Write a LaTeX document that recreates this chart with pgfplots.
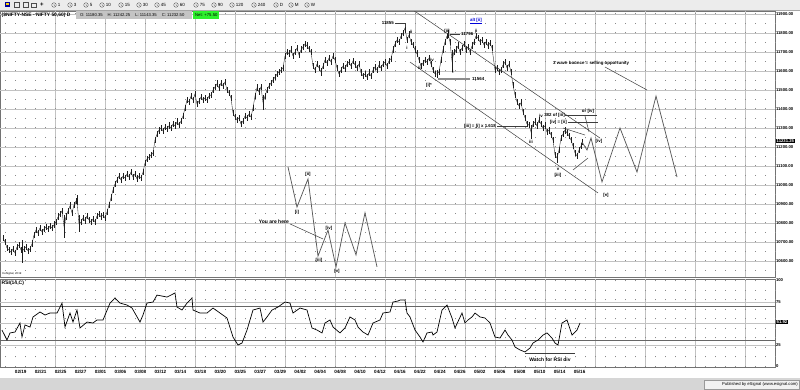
\documentclass[border=0pt]{standalone}
\usepackage{fontspec}
\setmainfont{Liberation Sans}
\usepackage{pgfplots}
\pgfplotsset{compat=1.18}
\usepackage{pgfplotstable}
\newcommand{\ft}[1]{\fontsize{#1}{#1}\selectfont}
\definecolor{barcol}{HTML}{1E1E1E}
\definecolor{anncol}{HTML}{3C3C3C}
\definecolor{tbgray}{HTML}{ECECEC}
\definecolor{ftgray}{HTML}{D6D6D6}
\definecolor{netgreen}{HTML}{2EF02E}
\definecolor{ohlcgray}{HTML}{C4C4C4}
\definecolor{gridcol}{HTML}{8A8A8A}
\definecolor{gridline}{HTML}{C2C2C2}

\pgfplotstableread{
x c r
3 10721 18
5 10700 18
7 10668 18
9 10658 18
11 10647 18
13 10663 18
15 10642 18
17 10674 18
19 10684 18
21 10658 18
22 10650 60
24 10663 18
26 10674 18
28 10653 18
30 10663 18
32 10690 18
34 10737 18
36 10763 18
38 10747 18
40 10774 18
42 10753 18
44 10768 18
46 10779 18
48 10768 18
50 10784 18
52 10774 18
54 10790 18
56 10805 18
58 10832 18
60 10847 18
62 10863 18
64 10782 60
66 10832 18
68 10863 18
70 10890 18
72 10853 18
74 10895 18
76 10916 18
77 10921 25
79 10795 45
81 10805 18
83 10826 18
85 10811 18
87 10837 18
89 10816 18
91 10805 18
93 10821 18
95 10805 18
97 10837 18
99 10847 18
101 10832 18
103 10842 18
105 10826 18
107 10858 18
109 10895 18
111 10932 18
113 10974 18
115 11005 18
117 11026 18
119 11047 18
121 11026 18
123 11047 18
125 11037 18
127 11058 18
129 11042 18
131 11068 18
133 11042 18
135 11058 18
137 11032 18
139 11047 18
141 11037 18
143 11068 18
145 11116 18
147 11137 18
149 11147 18
151 11158 18
153 11168 18
155 11237 18
157 11268 18
159 11289 18
161 11300 18
163 11284 18
165 11305 18
167 11295 18
169 11311 18
171 11300 18
173 11321 18
175 11311 18
177 11332 18
179 11316 18
181 11337 18
183 11363 18
185 11405 18
187 11447 18
189 11437 18
191 11468 18
193 11447 18
195 11479 18
197 11426 18
199 11442 18
201 11463 18
203 11447 18
205 11458 18
207 11447 18
209 11468 18
211 11474 18
213 11500 18
215 11516 18
217 11532 18
219 11511 18
221 11537 18
223 11521 18
225 11542 18
227 11500 18
229 11484 18
231 11458 18
233 11379 18
235 11358 18
237 11342 18
239 11353 18
241 11321 18
243 11337 18
245 11363 18
247 11353 18
249 11374 18
251 11358 18
253 11405 18
255 11468 18
257 11511 18
259 11490 18
261 11516 18
263 11434 40
265 11468 18
267 11500 18
269 11521 18
271 11537 18
273 11553 18
275 11568 18
277 11584 18
279 11595 18
281 11605 18
283 11616 18
285 11679 18
287 11700 18
289 11690 18
291 11711 18
293 11679 18
295 11700 18
297 11721 18
299 11684 18
301 11711 18
303 11726 18
305 11742 18
307 11732 18
309 11716 18
311 11700 18
313 11626 18
315 11605 18
317 11637 18
319 11616 18
321 11595 22
323 11626 18
325 11658 18
327 11642 18
329 11668 18
331 11647 18
333 11679 18
335 11658 18
337 11616 18
339 11584 18
341 11605 18
343 11626 18
345 11611 18
347 11637 18
349 11647 18
351 11626 18
353 11653 18
355 11632 18
357 11616 18
359 11637 18
361 11590 18
363 11574 18
365 11584 18
367 11568 18
369 11590 18
371 11574 18
373 11605 18
375 11621 18
377 11605 18
379 11632 18
381 11616 18
383 11637 18
385 11647 18
387 11626 18
389 11653 18
391 11663 18
393 11711 18
395 11742 18
397 11763 18
399 11753 18
401 11784 18
403 11800 18
405 11826 27
407 11763 18
409 11790 18
411 11753 18
413 11737 18
415 11711 18
417 11690 18
419 11658 18
421 11626 18
423 11642 18
425 11658 18
427 11647 18
429 11668 18
431 11637 18
433 11605 18
435 11584 18
437 11584 20
439 11595 18
441 11658 18
443 11711 18
445 11753 18
447 11784 18
448 11795 20
450 11753 18
452 11653 58
454 11700 18
456 11711 18
458 11732 18
460 11700 18
462 11721 18
464 11742 18
466 11711 18
468 11726 18
470 11700 18
472 11732 18
474 11753 18
476 11784 18
478 11774 18
480 11753 18
482 11763 18
484 11737 18
486 11753 18
488 11732 18
490 11747 18
492 11721 18
495 11605 18
497 11616 18
499 11595 18
501 11605 18
503 11632 18
505 11647 18
507 11616 18
509 11637 18
511 11595 18
513 11526 18
515 11474 18
517 11437 18
519 11416 18
521 11432 18
523 11384 18
525 11353 18
527 11321 18
529 11316 18
531 11279 37
533 11321 18
535 11332 18
537 11311 18
539 11342 18
541 11321 18
543 11300 18
545 11311 18
547 11279 18
549 11289 18
551 11263 18
553 11237 18
555 11158 18
557 11142 26
559 11184 18
561 11247 18
563 11268 18
565 11289 18
567 11274 18
569 11258 18
571 11237 18
573 11205 18
575 11168 18
577 11153 18
579 11184 18
581 11205 18
582 11226 18
}\pricedata

\pgfplotstableread{
x v
2 42.4
7 30.8
10 39.0
15 40.1
20 50.6
22 34.3
25 48.3
30 45.9
33 57.6
40 63.4
45 59.9
50 62.2
57 62.2
62 73.8
65 45.9
70 62.2
73 51.7
77 65.7
80 44.8
87 51.7
93 50.6
97 54.1
103 54.1
110 73.8
115 79.7
120 73.8
127 71.5
132 68.0
140 51.7
143 59.9
147 73.8
153 75.0
157 83.1
167 80.8
175 85.5
177 69.2
182 65.7
187 73.8
192 79.7
193 65.7
200 62.2
207 62.2
213 68.0
220 62.2
227 56.4
233 34.3
238 25.0
242 27.3
247 42.4
253 65.7
260 68.0
263 51.7
267 57.6
272 65.7
278 69.2
285 75.0
290 73.8
293 62.2
300 68.0
307 65.7
312 44.8
317 42.4
322 39.0
325 50.6
330 54.1
333 45.9
340 39.0
345 44.8
350 57.6
355 54.1
358 45.9
363 40.1
368 36.6
373 50.6
380 54.1
383 62.2
390 63.4
393 75.0
398 76.2
400 77.3
405 77.3
407 62.2
410 57.6
415 42.4
420 34.3
423 28.5
427 39.0
432 40.1
433 36.6
437 40.1
442 65.7
447 71.5
452 56.4
455 44.8
462 62.2
465 50.6
468 54.1
472 57.6
475 62.2
480 57.6
485 56.4
490 50.6
495 34.3
500 33.1
505 42.4
508 36.6
512 30.8
515 22.7
520 19.2
525 16.9
530 21.5
533 27.3
538 30.8
543 36.6
547 39.0
552 33.1
555 27.3
558 25.0
562 50.6
567 54.1
572 36.6
577 42.4
580 50.6
}\rsidata

\tikzset{
  majg/.style={gridline, line width=0.7pt},
  ming/.style={gridcol, line width=1pt, dash pattern=on 1pt off 8.5pt, dash phase=3.5pt},
}
\pgfplotsset{
  chartbase/.style={
    scale only axis, width=775pt, xmin=0, xmax=775,
    axis line style={black!55, line width=0.6pt},
    xtick=\empty,
    major tick length=0pt, minor tick length=0pt,
    scaled y ticks=false,
    yticklabel pos=right,
    yticklabel style={anchor=west, font=\bfseries\ft{4.2}, xshift=-2.5pt,
      /pgf/number format/fixed, /pgf/number format/fixed zerofill,
      /pgf/number format/precision=2, /pgf/number format/1000 sep={},
      /pgf/number format/assume math mode=true},
    clip mode=individual,
  },
  ann/.style={anncol, line width=0.5pt, mark=none},
  proj/.style={black!65, line width=0.75pt, mark=none},
}

\begin{document}
\begin{tikzpicture}[x=1pt,y=1pt]
\useasboundingbox (0,0) rectangle (800,390);
\fill[white] (0,0) rectangle (800,390);

% ---------------- price panel ----------------
\begin{axis}[chartbase, at={(0pt,113pt)}, anchor=south west, height=266pt,
  ymin=10515.8, ymax=11915.8, ytick={10600,10700,...,11900}]
% grid (decoration)
\pgfplotsinvokeforeach{10600,10700,...,11900}{\draw[majg] (axis cs:0,#1) -- (axis cs:775,#1);}
\pgfplotsinvokeforeach{55,105,145,195,235,285,335,385,415,465,495,545,595,645,695,745}{\draw[majg] (axis cs:#1,10515.8) -- (axis cs:#1,11915.8);}
\pgfplotsinvokeforeach{5,15,...,775}{\draw[ming] (axis cs:#1,10515.8) -- (axis cs:#1,11915.8);}
\addplot[barcol, line width=0.35pt, mark=none,
  error bars/.cd, y dir=both, y explicit, error mark=none,
  error bar style={barcol, line width=0.55pt}]
  table[x=x, y=c, y error=r]{\pricedata};
% price labels lines
\addplot[ann] coordinates {(395,11853) (405,11853) (405,11830)};
\addplot[ann] coordinates {(450,11795) (460,11795)};
\addplot[black!45, line width=1.5pt, mark=none] coordinates {(438,11558) (470,11558)};
% channel
\addplot[ann] coordinates {(413,11921) (600,11247)};
\addplot[ann] coordinates {(410,11647) (598,10958)};
\addplot[ann] coordinates {(605,11621) (647,11500)};
% fib lines
\addplot[ann] coordinates {(497,11311) (527,11311)};
\addplot[ann] coordinates {(565,11368) (597,11368)};
\addplot[ann] coordinates {(568,11332) (598,11332)};
\addplot[ann] coordinates {(585,11363) (589,11279)};
\addplot[ann] coordinates {(563,11300) (585,11263)};
\addplot[ann] coordinates {(573,11079) (588,11142)};
% projection
\addplot[proj] coordinates {(582,11226) (587,11184) (591,11247) (602,11016) (620,11300) (637,11068) (656,11468) (677,11042)};
% you are here schematic
\addplot[proj] coordinates {(288,11095) (297,10884) (308,11032) (318,10626) (328,10763) (336,10569) (345,10800) (356,10632) (365,10853) (377,10569)};
\addplot[ann] coordinates {(290,10795) (323,10716)};
\node[fill=black, text=white, anchor=west, inner sep=0.7pt, font=\bfseries\ft{4.2}, xshift=0.8pt] at (axis cs:775,11231.25) {11231.25};
\end{axis}

% ---------------- RSI panel ----------------
\begin{axis}[chartbase, at={(0pt,23pt)}, anchor=south west, height=88pt,
  ymin=-0.6, ymax=101.8, ytick={0,25,50,75,100}, yticklabels={0,25,,75,100},
  xtick={20.7,40.66,...,580},
  xticklabels={02/19,02/21,02/25,02/27,03/01,03/06,03/08,03/12,03/14,03/18,03/20,03/25,03/27,03/29,04/02,04/04,04/08,04/10,04/12,04/16,04/22,04/24,04/26,05/02,05/06,05/08,05/10,05/14,05/16},
  xticklabel style={font=\bfseries\ft{4.6}, anchor=north, yshift=0.5pt}]
\pgfplotsinvokeforeach{25,50,75}{\draw[majg] (axis cs:0,#1) -- (axis cs:775,#1);}
\pgfplotsinvokeforeach{55,105,145,195,235,285,335,385,415,465,495,545,595,645,695,745}{\draw[majg] (axis cs:#1,-0.6) -- (axis cs:#1,101.8);}
\pgfplotsinvokeforeach{5,15,...,775}{\draw[ming, dash phase=0pt] (axis cs:#1,-0.6) -- (axis cs:#1,101.8);}
\addplot[black!60, line width=0.6pt, mark=none] coordinates {(0,70) (775,70)};
\addplot[black!60, line width=0.6pt, mark=none] coordinates {(0,30) (775,30)};
\addplot[black, line width=0.7pt, mark=none] table[x=x, y=v]{\rsidata};
\addplot[ann] coordinates {(525,15.7) (575,15.7)};
\node[fill=black, text=white, anchor=west, inner sep=0.7pt, font=\bfseries\ft{4.2}, xshift=0.8pt] at (axis cs:775,51.92) {51.92};
\end{axis}

% ---------------- chrome and annotations (image coordinates) ----------------
\begin{scope}[shift={(0,390)}, yscale=-1]
% toolbar
\fill[tbgray] (0,0) rectangle (800,10.3);
\draw[black!35, line width=0.4pt] (0,10.3) -- (800,10.3);
\fill[blue!60!black] (5,2.5) rectangle (10,7.5);
\fill[yellow!70!orange] (6,3.5) rectangle (9,5);
\draw[black!70, line width=0.4pt] (14,2.5) rectangle (19,7.5);
\draw[black!70, line width=0.4pt] (23,2.5) rectangle (28,7.5);
\draw[black!70, line width=0.4pt] (31,3) rectangle (36,7.5);
\node[font=\bfseries\ft{6}] at (42,5) {+};
\foreach \cx/\lab in {54/1,70/3,86/5,102/10,121/15,139/30,157/45,176/60,196/75,214/90,232/120,254/240,276/D,291/M,307/W}{
  \draw[black!70, line width=0.35pt] (\cx,5) circle (2.3);
  \draw[black!70, line width=0.35pt] (\cx,5) -- (\cx,3.6) (\cx,5) -- (\cx+1,5.6);
  \node[anchor=west, inner sep=0pt, font=\ft{4.5}] at (\cx+3.6,5.2) {\lab};
}
% header
\node[anchor=west, inner sep=0pt, font=\bfseries\ft{4.9}] at (1.5,15.3) {(\$NIFTY-NSE - NIFTY 50,60) D};
\fill[ohlcgray] (76,11.2) rectangle (192,19.3);
\node[anchor=west, inner sep=0pt, font=\ft{4.2}] at (80,15.3) {O: 11180.35\hspace{5pt}H: 11242.25\hspace{5pt}L: 11143.35\hspace{5pt}C: 11232.50};
\fill[netgreen] (192.5,11.2) rectangle (218.5,19.3);
\node[anchor=west, inner sep=0pt, font=\ft{4.2}] at (195,15.3) {Net: +75.50};
% price annotations
\begin{scope}[every node/.style={inner sep=0pt, font=\bfseries\ft{4.4}}]
\node[anchor=east] at (394,23) {11855};
\node at (411,32) {ii};
\node at (407,48) {i};
\node at (420,68) {iii};
\node at (432,60) {iv};
\node at (429,85) {[i]*};
\node at (447,31) {[ii]};
\node[anchor=west] at (461,34) {11796};
\node at (453,72) {i};
\node at (476,31) {ii};
\node[anchor=west] at (472,79) {11564};
\node[text=blue!85!black] at (476,21) {\underline{alt [ii]}};
\node[anchor=west] at (553,63) {3 wave bounce = selling opportunity};
\node[anchor=east] at (496,126) {[iii] = [i] x 1.618};
\node at (531,142) {iii};
\node at (541,116) {iv};
\node at (558,169) {v};
\node at (558,175) {[iii]};
\node[anchor=east] at (565,115) {382 of [iii]};
\node[anchor=east] at (567,122) {[iv] = [ii]};
\node at (588,111) {or [iv]};
\node at (599,141) {[iv]};
\node at (606,195) {[v]};
\node at (308,174) {[ii]};
\node at (297,212) {[i]};
\node at (319,260) {[iii]};
\node at (329,228) {[iv]};
\node at (337,271) {[v]};
\node[anchor=east, font=\bfseries\ft{5}] at (289,222) {You are here};
\node[anchor=west, font=\ft{2.8}] at (2,273.5) {\textcopyright eSignal, 2019};
\node[anchor=west, font=\bfseries\ft{5}] at (1.5,283.5) {RSI(14,C)};
\node[font=\bfseries\ft{5}] at (550,360) {Watch for RSI div};
\end{scope}
% footer
\fill[ftgray] (0,378.5) rectangle (800,390);
\draw[black!40, line width=0.4pt, fill=black!5] (704,379.8) rectangle (799,388.8);
\node[anchor=east, inner sep=0pt, font=\ft{4.2}] at (798,384.3) {Published by eSignal (www.esignal.com)};
\end{scope}
\end{tikzpicture}
\end{document}
